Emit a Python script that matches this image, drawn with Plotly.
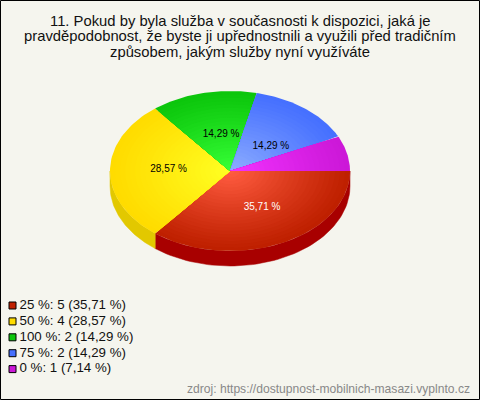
import math
import plotly.graph_objects as go

title_lines = ["11. Pokud by byla služba v současnosti k dispozici, jaká je",
               "pravděpodobnost, že byste ji upřednostnili a využili před tradičním",
               "způsobem, jakým služby nyní využíváte"]
categories = ["25 %", "50 %", "100 %", "75 %", "0 %"]
counts = [5, 4, 2, 2, 1]
percent_labels = ["35,71 %", "28,57 %", "14,29 %", "14,29 %", "7,14 %"]
inner_colors = ["#ff5c40", "#ffff22", "#36ff36", "#8cacff", "#f232ff"]
outer_colors = ["#bf2000", "#ffdc00", "#0cc60c", "#4670ff", "#cc18d8"]
side_colors = ["#a80000", "#e2c800", "#0a9a0a", "#3050c0", "#a010a8"]
label_colors = ["white", "black", "black", "black", None]
source = "zdroj: https://dostupnost-mobilnich-masazi.vyplnto.cz"

W, H = 480, 400
CX, CY, RX, RY, DEPTH = 230, 171, 120, 80, 15
LABEL_OFFSETS = [(5, 0), (1, -2), (5, 2), (2, 7), (0, 0)]
total = sum(counts)

def rgb(h):
    return [int(h[i:i+2], 16) for i in (1, 3, 5)]

def mix(a, b, t):
    a, b = rgb(a), rgb(b)
    return "rgb(%d,%d,%d)" % tuple(round(a[i] + (b[i] - a[i]) * t) for i in range(3))

def arc(a0, a1, n=60):
    return [a0 + (a1 - a0) * i / n for i in range(n + 1)]

fig = go.Figure()
edges = [0]
for c in counts:
    edges.append(edges[-1] + c / total * 360)

# extruded rim: only the front half (0-180 degrees) is visible
for i, c in enumerate(counts):
    a0, a1 = edges[i], min(edges[i + 1], 180)
    if a0 >= 180:
        continue
    ang = [math.radians(a) for a in arc(a0, a1)]
    xs = [CX + RX * math.cos(a) for a in ang]
    ys = [CY + RY * math.sin(a) for a in ang]
    px = xs + xs[::-1] + [xs[0]]
    py = ys + [y + DEPTH for y in ys[::-1]] + [ys[0]]
    fig.add_trace(go.Scatter(x=px, y=py, mode="lines", fill="toself", fillcolor=side_colors[i],
                             line=dict(width=0.5, color=side_colors[i]), hoverinfo="skip"))

# top face: concentric layers to build a radial gradient
LAYERS = 24
for i, c in enumerate(counts):
    ang = [math.radians(a) for a in arc(edges[i], edges[i + 1])]
    for l in range(LAYERS):
        k = 1 - l / LAYERS
        t = l / (LAYERS - 1)
        col = mix(outer_colors[i], inner_colors[i], t ** 1.1)
        xs = [CX] + [CX + k * RX * math.cos(a) for a in ang] + [CX]
        ys = [CY] + [CY + k * RY * math.sin(a) for a in ang] + [CY]
        fig.add_trace(go.Scatter(x=xs, y=ys, mode="lines", fill="toself", fillcolor=col,
                                 line=dict(width=0), hoverinfo="skip"))

# percentage labels inside slices
for i, c in enumerate(counts):
    if label_colors[i] is None:
        continue
    m = math.radians((edges[i] + edges[i + 1]) / 2)
    dx, dy = LABEL_OFFSETS[i]
    fig.add_trace(go.Scatter(x=[CX + 0.52 * RX * math.cos(m) + dx], y=[CY + 0.5 * RY * math.sin(m) + dy],
                             mode="text", text=[percent_labels[i]],
                             textfont=dict(family="Liberation Sans", size=10, color=label_colors[i]),
                             hoverinfo="skip"))

# legend
leg_y = [305.5 + 15.9 * i for i in range(len(counts))]
fig.add_trace(go.Scatter(x=[12.5] * len(counts), y=leg_y, mode="markers",
                         marker=dict(symbol="square", size=7, color=outer_colors,
                                     line=dict(width=1, color="black")),
                         hoverinfo="skip"))
fig.add_trace(go.Scatter(x=[19.5] * len(counts), y=leg_y, mode="text",
                         text=["%s: %d (%s)" % (categories[i], counts[i], percent_labels[i])
                               for i in range(len(counts))],
                         textposition="middle right",
                         textfont=dict(family="Liberation Sans", size=13.3, color="#111111"),
                         hoverinfo="skip"))

anns = []
for y, line in zip([20.5, 36, 51.5], title_lines):
    anns.append(dict(x=240, y=y, xref="x", yref="y", text=line, showarrow=False, xanchor="center",
                     yanchor="middle", font=dict(family="Liberation Sans", size=14.8, color="#111111")))
anns.append(dict(x=471.5, y=389, xref="x", yref="y", text=source, showarrow=False, xanchor="right",
                 yanchor="middle", font=dict(family="Liberation Sans", size=12.1, color="#888888")))

fig.update_layout(
    width=W, height=H, margin=dict(l=0, r=0, t=0, b=0), showlegend=False,
    paper_bgcolor="#f5f5ee", plot_bgcolor="#f5f5ee",
    xaxis=dict(range=[0, W], visible=False, fixedrange=True),
    yaxis=dict(range=[H, 0], visible=False, fixedrange=True),
    annotations=anns,
    shapes=[dict(type="rect", xref="x", yref="y", x0=0.5, y0=0.5, x1=W - 0.5, y1=H - 0.5,
                 line=dict(color="black", width=1))],
)
fig.write_html("out.html", config={"displayModeBar": False},
               post_script="document.body.style.margin='0';document.body.style.overflow='hidden';")
